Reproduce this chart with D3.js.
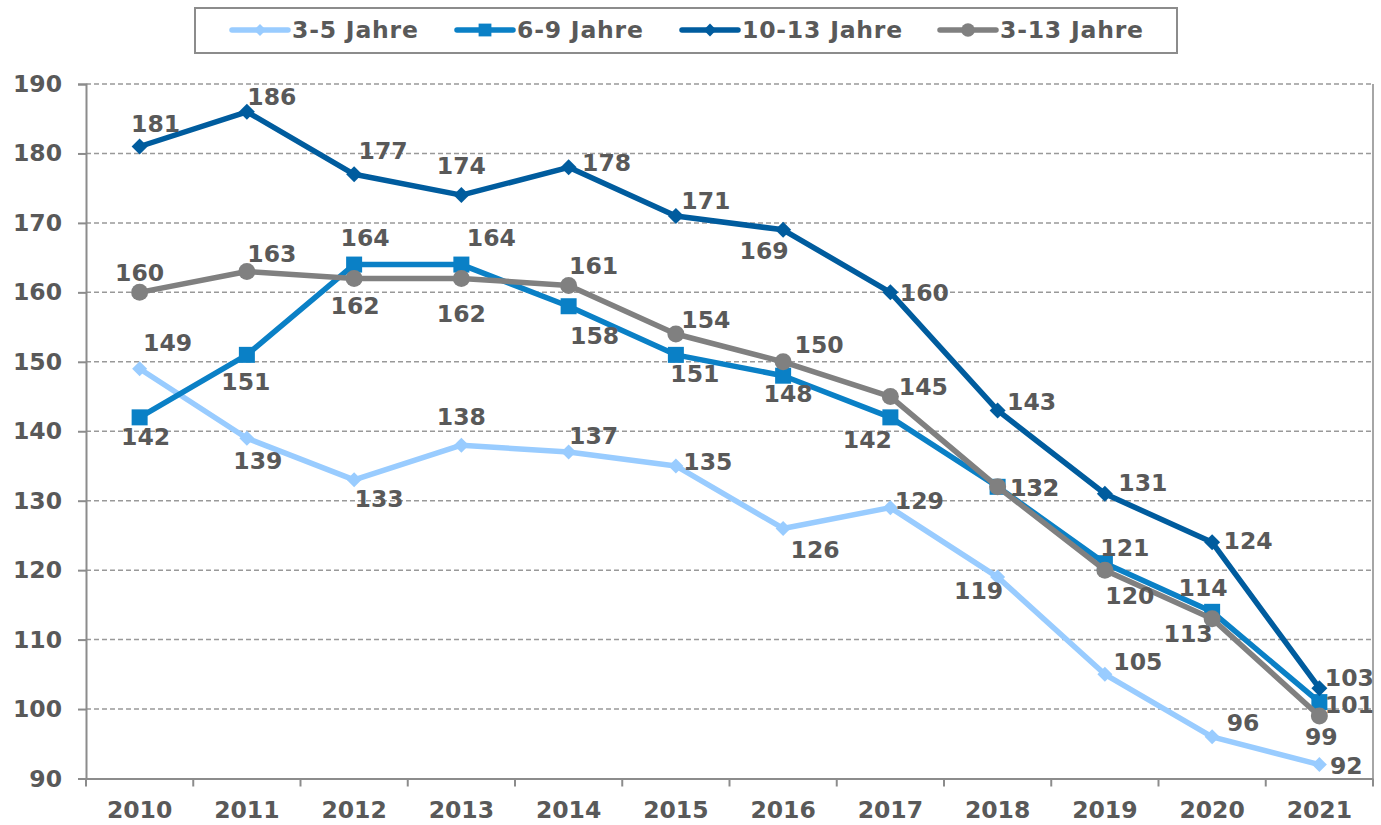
<!DOCTYPE html>
<html><head><meta charset="utf-8">
<script src="https://cdn.jsdelivr.net/npm/d3@7"></script>
<style>
html,body{margin:0;padding:0;background:#fff;}
svg{display:block;font-family:"DejaVu Sans",sans-serif;font-weight:bold;}
</style></head>
<body>
<svg id="chart" width="1381" height="825"></svg>
<script>
const categories = ["2010","2011","2012","2013","2014","2015","2016","2017","2018","2019","2020","2021"];
const seriesNames = ["3-5 Jahre","6-9 Jahre","10-13 Jahre","3-13 Jahre"];
const values35 = [149,139,133,138,137,135,126,129,119,105,96,92];
const values69 = [142,151,164,164,158,151,148,142,132,121,114,101];
const values1013 = [181,186,177,174,178,171,169,160,143,131,124,103];
const values313 = [160,163,162,162,161,154,150,145,132,120,113,99];
const yTicks = [90,100,110,120,130,140,150,160,170,180,190];

// label placement offsets (layout only)
const off35 = [[28,-26],[11,23],[25,19],[0,-28],[25,-16],[32,-4],[32,22],[29,-7],[-19,14],[33,-12],[31,-14],[27,1]];
const off69 = [[6,20],[-1,27],[11,-27],[30,-27],[26,30],[19,19],[5,18],[-23,23],[37,1],[20,-15],[-9,-24],[30,3]];
const off1013 = [[16,-23],[25,-15],[29,-23],[0,-29],[38,-4],[30,-15],[-19,21],[34,1],[34,-8],[38,-11],[36,-1],[30,-10]];
const off313 = [[0,-19],[25,-18],[1,28],[0,36],[25,-19],[30,-14],[36,-17],[33,-10],[37,1],[25,26],[-24,15],[2,21]];

const styles = [
  {color:"#99CCFF", shape:"diamond", size:15},
  {color:"#0A80C6", shape:"square", size:16},
  {color:"#005C9E", shape:"diamond", size:16},
  {color:"#808080", shape:"circle", size:17}
];
const seriesValues = [values35, values69, values1013, values313];
const seriesOffsets = [off35, off69, off1013, off313];

const FONT = '"DejaVu Sans",sans-serif';
const FS = 23.5;
const svg = d3.select("#chart");
const textColor = "#595959";
const axisColor = "#8c8c8c";

const x = d3.scaleBand().domain(categories).range([86,1373]).padding(0);
const y = d3.scaleLinear().domain([90,190]).range([778.5,84]);
const cx = c => x(c) + x.bandwidth()/2;

// gridlines
svg.append("g").selectAll("line").data(yTicks.filter(t=>t>90)).join("line")
  .attr("x1",86).attr("x2",1373).attr("y1",d=>y(d)).attr("y2",d=>y(d))
  .attr("stroke","#999").attr("stroke-width",1.5).attr("stroke-dasharray","5,3");

// right border
svg.append("line").attr("x1",1373).attr("x2",1373).attr("y1",y(190)).attr("y2",y(90))
  .attr("stroke","#a6a6a6").attr("stroke-width",2);

// y axis
const yAxis = svg.append("g").attr("transform","translate(86,0)")
  .call(d3.axisLeft(y).tickValues(yTicks).tickSize(8).tickPadding(16).tickFormat(d3.format("d")));
yAxis.select(".domain").attr("stroke",axisColor).attr("stroke-width",2);
yAxis.selectAll(".tick line").attr("stroke",axisColor).attr("stroke-width",2);
yAxis.selectAll(".tick text").attr("fill",textColor).attr("font-size",FS)
  .attr("font-family",FONT).attr("font-weight","bold");

// x axis
const xAxis = svg.append("g").attr("transform",`translate(0,${y(90)})`)
  .call(d3.axisBottom(x).tickSize(0).tickPadding(23));
xAxis.select(".domain").attr("stroke",axisColor).attr("stroke-width",2);
xAxis.selectAll(".tick text").attr("fill",textColor).attr("font-size",FS)
  .attr("font-family",FONT).attr("font-weight","bold");
const boundaries = categories.map(c=>x(c)).concat([x(categories[categories.length-1])+x.bandwidth()]);
xAxis.append("g").selectAll("line").data(boundaries).join("line")
  .attr("x1",d=>d).attr("x2",d=>d).attr("y1",0).attr("y2",8)
  .attr("stroke",axisColor).attr("stroke-width",2);

function marker(g, shape, size, color){
  if(shape==="diamond"){
    const h = size/2;
    g.append("path").attr("d",`M0,${-h}L${h},0L0,${h}L${-h},0Z`).attr("fill",color);
  } else if(shape==="square"){
    g.append("rect").attr("x",-size/2).attr("y",-size/2).attr("width",size).attr("height",size).attr("fill",color);
  } else {
    g.append("circle").attr("r",size/2).attr("fill",color);
  }
}

const line = d3.line().x((d,i)=>cx(categories[i])).y(d=>y(d));

seriesValues.forEach((vals,si)=>{
  const st = styles[si];
  const g = svg.append("g");
  g.append("path").datum(vals).attr("d",line).attr("fill","none")
    .attr("stroke",st.color).attr("stroke-width",5.5).attr("stroke-linejoin","round");
  vals.forEach((v,i)=>{
    const mg = g.append("g").attr("transform",`translate(${cx(categories[i])},${y(v)})`);
    marker(mg, st.shape, st.size, st.color);
  });
});

// data labels
seriesValues.forEach((vals,si)=>{
  svg.append("g").selectAll("text").data(vals).join("text")
    .attr("x",(d,i)=>cx(categories[i])+seriesOffsets[si][i][0])
    .attr("y",(d,i)=>y(d)+seriesOffsets[si][i][1])
    .attr("text-anchor","middle").attr("dominant-baseline","central")
    .attr("font-family",FONT).attr("font-weight","bold")
    .attr("fill",textColor).attr("font-size",FS).text(d=>d);
});

// legend
const lg = svg.append("g");
lg.append("rect").attr("x",195).attr("y",8).attr("width",982).attr("height",45)
  .attr("fill","#fff").attr("stroke","#8c8c8c").attr("stroke-width",2);
const legendX = [232,457,682,940];
seriesNames.forEach((name,si)=>{
  const st = styles[si];
  const lx = legendX[si];
  lg.append("line").attr("x1",lx).attr("x2",lx+56).attr("y1",30).attr("y2",30)
    .attr("stroke",st.color).attr("stroke-width",5.5).attr("stroke-linecap","round");
  const mg = lg.append("g").attr("transform",`translate(${lx+28},30)`);
  marker(mg, st.shape, st.size*0.8, st.color);
  lg.append("text").attr("x",lx+60).attr("y",30).attr("dominant-baseline","central")
    .attr("font-family",FONT).attr("font-weight","bold").attr("letter-spacing",0.8)
    .attr("fill",textColor).attr("font-size",FS).text(name);
});
</script>
</body></html>
